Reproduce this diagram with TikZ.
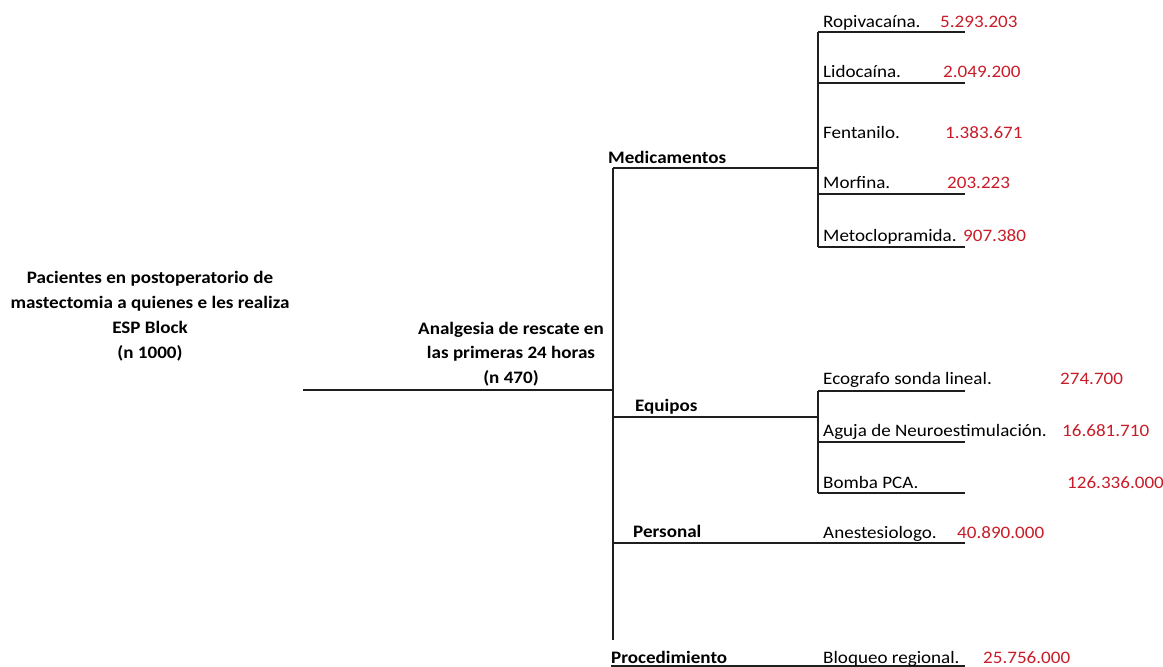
\documentclass[tikz,border=0pt]{standalone}
\usepackage{fontspec}
\setmainfont{Carlito}[FakeStretch=1.09]
\definecolor{costred}{RGB}{200,28,40}
\definecolor{rulegray}{RGB}{30,30,30}
\begin{document}
\begin{tikzpicture}[x=1pt,y=-1pt,
  txt/.style={inner sep=0pt, anchor=base west, font=\fontsize{17.5}{21}\selectfont},
  cat/.style={txt, font=\fontsize{17.5}{21}\selectfont\bfseries},
  cost/.style={txt, text=costred},
  head/.style={inner sep=0pt, align=center, font=\fontsize{17.5}{24.8}\selectfont\bfseries},
  rule/.style={line width=1.3pt, draw=rulegray}]
\useasboundingbox (0,0) rectangle (1163,667);

% headings
\node[head] (root) at (150,316) {Pacientes en postoperatorio de\\mastectomia a quienes e les realiza\\ESP Block\\(n 1000)};
\node[head] (resc) at (511,354) {Analgesia de rescate en\\las primeras 24 horas\\(n 470)};

% main branch points
\coordinate (rootend) at (303,390);
\coordinate (hub) at (613,390);
\coordinate (trunktop) at (613,168);
\coordinate (trunkbot) at (613,640);
\coordinate (medj) at (818,168);
\coordinate (equj) at (613,417);
\coordinate (equk) at (818,417);
\coordinate (pers-a) at (613,543);
\coordinate (pers-b) at (965,543);
\coordinate (proc-a) at (611,666);
\coordinate (proc-b) at (965,666);
\coordinate (medtop) at (818,32);
\coordinate (medbot) at (818,247);
\coordinate (equtop) at (818,391);
\coordinate (equbot) at (818,493);

\draw[rule] (rootend) -- (hub);
\draw[rule] (trunktop) -- (trunkbot);
\draw[rule] (trunktop) -- (medj);
\draw[rule] (medtop) -- (medbot);
\draw[rule] (equj) -- (equk);
\draw[rule] (equtop) -- (equbot);
\draw[rule] (pers-a) -- (pers-b);
\draw[rule] (proc-a) -- (proc-b);

% item underlines
\foreach \nm/\yy in {ropi/32, lido/83, morf/194, meto/247, eco/391, agu/442, bom/493}{
  \coordinate (\nm-a) at (818,\yy);
  \coordinate (\nm-b) at (965,\yy);
  \draw[rule] (\nm-a) -- (\nm-b);
}

% categories
\node[cat] (med) at (608,163) {Medicamentos};
\node[cat] (equ) at (635,411.5) {Equipos};
\node[cat] (pers) at (633,537.5) {Personal};
\node[cat] (proc) at (611,663.5) {Procedimiento};

% items and costs
\node[txt] (ropi) at (823,27.5) {Ropivacaína.};
\node[cost] (ropi-v) at (940,27.5) {5.293.203};
\node[txt] (lido) at (823,77.5) {Lidocaína.};
\node[cost] (lido-v) at (943,77.5) {2.049.200};
\node[txt] (fent) at (823,138.5) {Fentanilo.};
\node[cost] (fent-v) at (945,138.5) {1.383.671};
\node[txt] (morf) at (823,188.5) {Morfina.};
\node[cost] (morf-v) at (947,188.5) {203.223};
\node[txt] (meto) at (823,241) {Metoclopramida.};
\node[cost] (meto-v) at (963,241) {907.380};
\node[txt] (eco) at (823,384.5) {Ecografo sonda lineal.};
\node[cost] (eco-v) at (1060,384.5) {274.700};
\node[txt] (agu) at (823,436.5) {Aguja de Neuroestimulación.};
\node[cost] (agu-v) at (1062,436.5) {16.681.710};
\node[txt] (bom) at (823,488.5) {Bomba PCA.};
\node[cost] (bom-v) at (1067,488.5) {126.336.000};
\node[txt] (anes) at (823,538.5) {Anestesiologo.};
\node[cost] (anes-v) at (957,538.5) {40.890.000};
\node[txt] (bloq) at (823,663) {Bloqueo regional.};
\node[cost] (bloq-v) at (983,663) {25.756.000};
\end{tikzpicture}
\end{document}
